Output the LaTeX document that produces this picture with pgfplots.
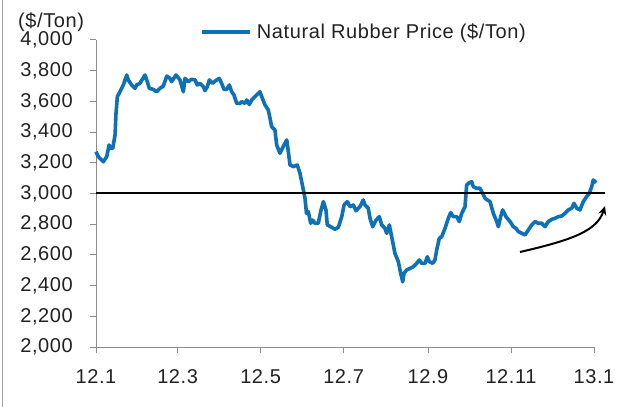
\documentclass[border=0pt]{standalone}
\usepackage{pgfplots}
\pgfplotsset{compat=1.18}
\usepackage{fontspec}
\setmainfont{Liberation Sans}[LetterSpace=3]
\usetikzlibrary{arrows.meta}
\definecolor{rubber}{RGB}{14,112,182}
\definecolor{axgray}{RGB}{140,140,140}
\definecolor{txt}{RGB}{34,34,34}
\begin{document}
\begin{tikzpicture}
\useasboundingbox (0,0) rectangle (632bp,407bp);
\fill[white] (0,0) rectangle (632bp,407bp);
\draw[axgray!80, line width=1.2bp] (2.5bp,0) -- (2.5bp,407bp);
\begin{axis}[
  at={(96bp,60bp)}, anchor=south west,
  scale only axis, width=498bp, height=307bp,
  xmin=0, xmax=366, ymin=2000, ymax=4000,
  axis x line*=bottom, axis y line*=left,
  axis line style={axgray, line width=1bp, -},
  xtick={0,60,121,182,244,305,366},
  xticklabels={12.1,12.3,12.5,12.7,12.9,12.11,13.1},
  ytick={2000,2200,...,4000},
  tick align=outside, major tick length=6bp,
  tick style={axgray, line width=1bp},
  ticklabel style={font=\fontsize{20bp}{22bp}\selectfont, text=txt},
  yticklabel style={anchor=east, inner sep=0pt, xshift=-17bp},
  xticklabel style={anchor=base, inner sep=0pt, yshift=-30.5bp},
  /pgf/number format/1000 sep={,},
  /pgf/number format/assume math mode=true,
  scaled y ticks=false,
  clip=false,
  legend style={draw=none, fill=none, at={(0.209,1.026)}, anchor=west,
    font=\fontsize{20bp}{22bp}\selectfont, text=txt, inner sep=0pt,
    nodes={inner sep=0pt},
    /tikz/every odd column/.append style={column sep=5bp}},
  legend image code/.code={\draw[#1] (0bp,0bp) -- (48bp,0bp);},
]
\addplot[rubber, line width=3.6bp, line join=round] coordinates {
(0,3272) (1.7,3240) (5.4,3207) (7.9,3240) (9.6,3316) (10.8,3294) (12.3,3294)
(14.0,3381) (14.7,3522) (15.7,3631) (17.6,3663) (20.1,3707) (22.6,3772)
(23.7,3740) (26.2,3707) (28.7,3685) (29.9,3707) (32.3,3718) (36.0,3772)
(37.7,3729) (39.2,3685) (42.1,3678) (44.6,3663) (47.0,3685) (49.5,3700)
(52.0,3765) (54.4,3750) (55.6,3729) (58.8,3772) (61.7,3740) (64.2,3663)
(65.4,3750) (67.8,3729) (70.3,3744) (72.8,3740) (74.4,3707) (76.4,3718)
(78.9,3696) (80.1,3670) (81.8,3696) (83.3,3740) (85.7,3718) (88.7,3740)
(90.6,3750) (92.3,3718) (94.1,3678) (96.0,3678) (98.0,3707) (99.7,3663)
(101.4,3642) (103.4,3587) (105.8,3587) (107.1,3598) (109.5,3587) (110.8,3609)
(112.7,3580) (114.4,3609) (116.9,3631) (119.3,3653) (120.5,3663) (121.8,3631)
(124.2,3577) (126.6,3544) (127.9,3490) (129.1,3435) (131.5,3414) (132.8,3316)
(135.2,3262) (137.6,3305) (140.2,3349) (142.6,3186) (145.0,3175) (147.9,3186)
(149.9,3132) (152.4,3023) (153.6,2969) (154.7,2871) (156.0,2882) (157.8,2806)
(159.3,2827) (160.9,2806) (163.4,2806) (165.1,2882) (167.1,2947) (169.0,2893)
(170.0,2795) (173.2,2780) (175.6,2767) (178.1,2780) (180.6,2849) (182.3,2925)
(184.7,2947) (186.7,2914) (189.1,2925) (191.1,2888) (194.0,2914) (196.4,2958)
(197.7,2925) (200.1,2904) (201.4,2838) (203.4,2784) (205.8,2827) (208.2,2849)
(210.0,2795) (212.4,2773) (213.6,2741) (215.6,2795) (217.3,2719) (219.7,2610)
(222.2,2556) (223.4,2502) (225.4,2425) (226.4,2480) (228.3,2502) (230.8,2512)
(233.2,2523) (235.7,2545) (237.6,2567) (239.4,2545) (241.8,2545) (243.5,2588)
(245.0,2556) (247.5,2545) (249.1,2567) (250.4,2632) (252.3,2708) (254.1,2719)
(256.5,2773) (258.9,2838) (260.7,2875) (262.6,2849) (265.1,2849) (267.0,2817)
(268.8,2871) (271.2,2914) (272.4,3055) (274.3,3070) (276.1,3077) (277.3,3044)
(279.8,3034) (282.2,3034) (283.5,3012) (285.9,2969) (287.6,2958) (289.6,2947)
(292.0,2871) (294.5,2817) (295.7,2784) (297.4,2849) (298.9,2893) (301.3,2849)
(304.3,2817) (306.7,2784) (308.7,2773) (310.4,2752) (312.9,2741) (315.3,2730)
(317.7,2762) (320.2,2795) (322.6,2817) (325.0,2806) (327.6,2806) (330.0,2784)
(332.4,2817) (334.9,2832) (337.3,2838) (339.7,2849) (342.2,2853) (344.7,2871)
(347.1,2893) (349.6,2904) (351.3,2936) (353.3,2904) (355.7,2893) (358.1,2947)
(360.6,2980) (362.5,3001) (364.3,3044) (365.5,3088) (367.5,3070)
};
\addlegendentry{Natural Rubber Price (\$/Ton)}
\addplot[black, line width=2bp, forget plot] coordinates {(0,3000) (374,3000)};
\end{axis}
\node[anchor=west, inner sep=0pt, font=\fontsize{20bp}{22bp}\selectfont, text=txt] at (18bp,385bp) {(\$/Ton)};
\draw[black, line width=2bp, -{Stealth[length=9bp,width=8bp]}] (520bp,155bp) .. controls (572bp,167bp) and (597bp,176bp) .. (605bp,201bp);
\end{tikzpicture}
\end{document}
